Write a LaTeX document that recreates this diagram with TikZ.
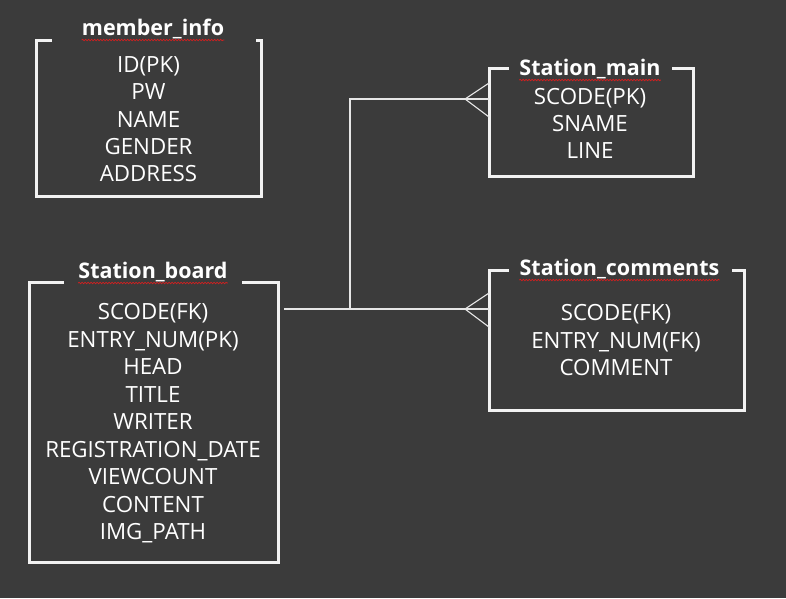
\documentclass[tikz,border=0pt]{standalone}
\usepackage{fontspec}
\setmainfont{Open Sans}
\usetikzlibrary{decorations.pathmorphing}
\definecolor{bgc}{HTML}{3B3B3B}
\definecolor{boxc}{HTML}{F2F2F2}
\definecolor{linec}{HTML}{E6E6E6}
\definecolor{squig}{HTML}{D02020}
\tikzset{
  entity/.style={line width=3pt, draw=boxc, line cap=rect},
  conn/.style={line width=1.1pt, draw=linec},
  field/.style={text=white, anchor=base, inner sep=0pt, font=\fontsize{22.3}{26}\selectfont},
  ttl/.style={text=white, anchor=base, inner sep=0pt, font=\fontsize{21.5}{25}\bfseries\selectfont},
  spell/.style={draw=squig, line width=0.8pt, decorate, decoration={snake, amplitude=0.7pt, segment length=3pt}}
}
\begin{document}
\begin{tikzpicture}[x=1pt,y=-1pt]
\fill[bgc] (0,0) rectangle (786,598);
\useasboundingbox (0,0) rectangle (786,598);

% ---------- member_info ----------
\coordinate (miNW) at (36,40); \coordinate (miSE) at (261,196);
\draw[entity] (50,40) -- (miNW) |- (miSE) -- (261,40) -- (257,40);
\node[ttl] (miT) at (153,35) {member\_info};
\draw[spell] ([yshift=-5pt]miT.base west) -- ([yshift=-5pt]miT.base east);
\foreach \t [count=\i from 0] in {ID(PK),PW,NAME,GENDER,ADDRESS}
  \node[field] (mi\i) at (148.5,72.5+27.3*\i) {\t};

% ---------- Station_main ----------
\coordinate (smNW) at (489,68); \coordinate (smSE) at (693,176);
\draw[entity] (507,68) -- (smNW) |- (smSE) -- (693,68) -- (673,68);
\node[ttl] (smT) at (590,75) {Station\_main};
\draw[spell] ([yshift=-5pt]smT.base west) -- ([yshift=-5pt]smT.base east);
\foreach \t [count=\i from 0] in {SCODE(PK),SNAME,LINE}
  \node[field] (sm\i) at (590,104.5+27*\i) {\t};

% ---------- Station_board ----------
\coordinate (sbNW) at (29,282); \coordinate (sbSE) at (278,562);
\draw[entity] (62,282) -- (sbNW) |- (sbSE) -- (278,282) -- (243,282);
\node[ttl] (sbT) at (153,278) {Station\_board};
\draw[spell] ([yshift=-5pt]sbT.base west) -- ([yshift=-5pt]sbT.base east);
\foreach \t [count=\i from 0] in {SCODE(FK),ENTRY\_NUM(PK),HEAD,TITLE,WRITER,REGISTRATION\_DATE,VIEWCOUNT,CONTENT,IMG\_PATH}
  \node[field] (sb\i) at (153,319.5+27.5*\i) {\t};

% ---------- Station_comments ----------
\coordinate (scNW) at (489,270); \coordinate (scSE) at (744,410);
\draw[entity] (507,270) -- (scNW) |- (scSE) -- (744,270) -- (733,270);
\node[ttl] (scT) at (619.5,275) {Station\_comments};
\draw[spell] ([yshift=-5pt]scT.base west) -- ([yshift=-5pt]scT.base east);
\foreach \t [count=\i from 0] in {SCODE(FK),ENTRY\_NUM(FK),COMMENT}
  \node[field] (sc\i) at (616,320.5+27.5*\i) {\t};

% ---------- connectors ----------
\coordinate (bOut) at (284,309);
\coordinate (cIn) at (489,309);
\coordinate (mIn) at (489,99);
\coordinate (jct) at (350,309);
\draw[conn] (bOut) -- (cIn);
\draw[conn] (jct) |- (mIn);
% crow's feet
\draw[conn] (489,293) -- (465,309) -- (489,327);
\draw[conn] (489,83) -- (465,99) -- (489,117);
\end{tikzpicture}
\end{document}
